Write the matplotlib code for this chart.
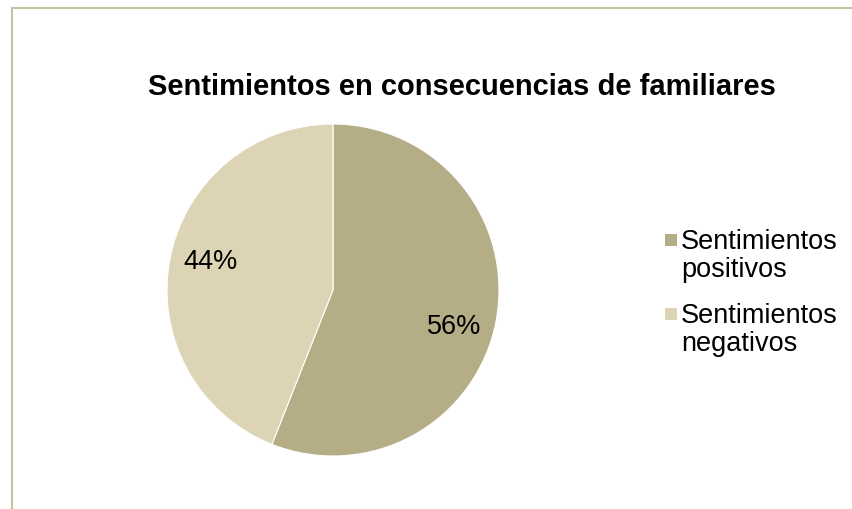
import numpy as np
import matplotlib.pyplot as plt
from matplotlib.patches import Rectangle

plt.rcParams['font.family'] = ['Liberation Sans', 'DejaVu Sans']

categories = ['Sentimientos\npositivos', 'Sentimientos\nnegativos']
values = [56, 44]
colors = ['#b5ad86', '#dcd4b4']
title = 'Sentimientos en consecuencias de familiares'

W, H = 852, 510
fig = plt.figure(figsize=(W / 100, H / 100), dpi=100)

# chart area border (Excel-style), runs off right and bottom edges
fig.patches.append(Rectangle((12 / W, -0.1), 1.0, (H - 9) / H + 0.1,
                             transform=fig.transFigure, fill=False,
                             edgecolor='#c4c49e', linewidth=1.5))

cx, cy, r = 333, 291, 166
ax = fig.add_axes([(cx - r) / W, (H - cy - r) / H, 2 * r / W, 2 * r / H])
wedges, texts, autotexts = ax.pie(values, colors=colors, startangle=90, counterclock=False,
                                  autopct='%1.0f%%', pctdistance=0.76,
                                  wedgeprops=dict(linewidth=0.8, edgecolor='white'),
                                  textprops=dict(fontsize=19.5, color='black'))
# Excel "best fit" puts the labels a little clockwise of the slice middle
for w, t, shift in zip(wedges, autotexts, [6, 2.5]):
    ang = np.deg2rad((w.theta1 + w.theta2) / 2 - shift)
    t.set_position((0.76 * np.cos(ang), 0.76 * np.sin(ang)))
ax.set_xlim(-1, 1)
ax.set_ylim(-1, 1)
ax.set_aspect('equal')

fig.text(462 / W, 1 - 87 / H, title, ha='center', va='center',
         fontsize=21, fontweight='bold')

# legend: square marker aligned with the first line of each label
for i, (label, color) in enumerate(zip(categories, colors)):
    y = 241 + 74 * i
    fig.patches.append(Rectangle((665 / W, 1 - (y + 6) / H), 12 / W, 12 / H,
                                 transform=fig.transFigure, facecolor=color,
                                 edgecolor='none'))
    fig.text(681 / W, 1 - (y - 12) / H, label, ha='left', va='top',
             fontsize=19.5, linespacing=1.12)

fig.savefig('out.png', dpi=100)
